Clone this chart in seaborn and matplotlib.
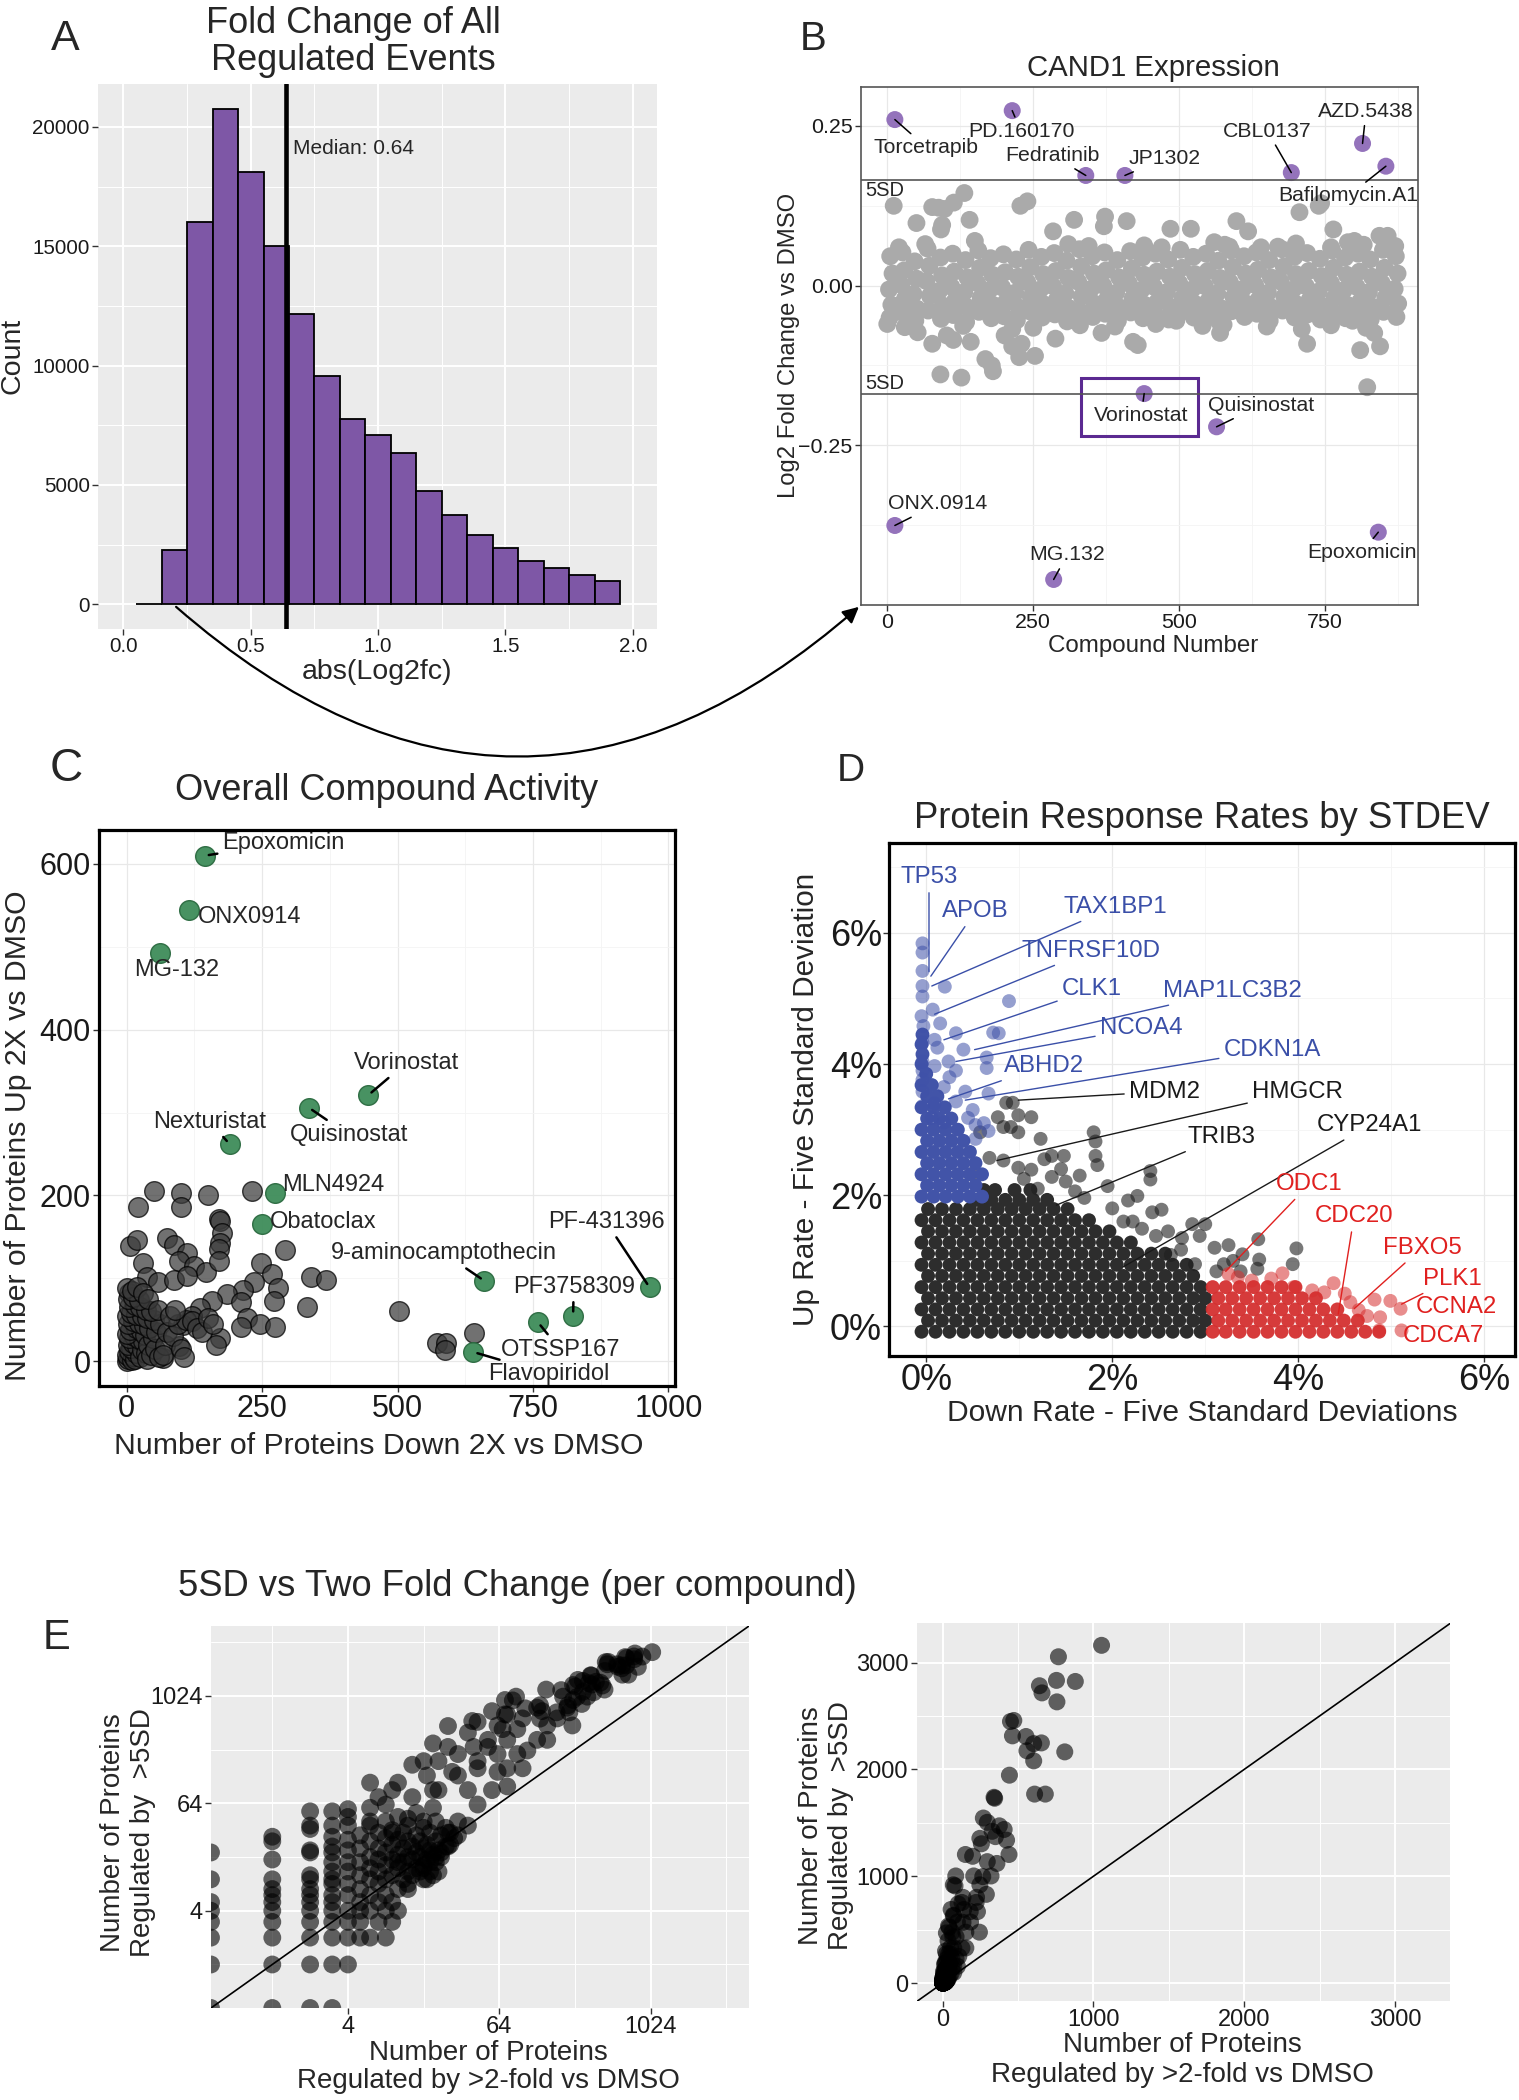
import numpy as np
import pandas as pd
import matplotlib.pyplot as plt
from matplotlib.patches import Rectangle, FancyArrowPatch
from matplotlib.ticker import NullFormatter
import seaborn as sns

sns.set_style('white')
plt.rcParams['font.family'] = ['Liberation Sans', 'DejaVu Sans']

W, H = 1519, 2100

# ---------------- A: abs(log2fc) histogram ----------------
fc_bin_edges = [0.05, 0.15, 0.25, 0.35, 0.45, 0.55, 0.65, 0.75, 0.85, 0.95,
                1.05, 1.15, 1.25, 1.35, 1.45, 1.55, 1.65, 1.75, 1.85, 1.95]
fc_bin_counts = [0, 2260, 16000, 20750, 18130, 14990, 12170, 9550, 7740, 7100,
                 6340, 4750, 3740, 2900, 2370, 1810, 1530, 1230, 990]
fc_median = 0.64

# ---------------- B: CAND1 expression per compound ----------------
cand1_hit_names = ['Torcetrapib', 'PD.160170', 'Fedratinib', 'JP1302', 'CBL0137', 'AZD.5438',
                   'Bafilomycin.A1', 'Vorinostat', 'Quisinostat', 'ONX.0914', 'MG.132', 'Epoxomicin']
cand1_hit_num = [13, 214, 340, 407, 692, 814, 854, 440, 564, 13, 285, 841]
cand1_hit_fc = [0.260, 0.274, 0.1725, 0.1725, 0.177, 0.2226, 0.187, -0.169, -0.221, -0.3755, -0.460, -0.386]
cand1_sd_cut = [0.165, -0.17]
cand1_other = [
    (5, 0.046), (9, 0.019), (3, -0.006), (7, -0.030), (4, -0.050),
    (26, 0.052), (29, 0.024), (24, 0.001), (30, -0.021), (27, -0.043),
    (47, 0.038), (50, 0.011), (45, -0.013), (51, -0.036), (48, -0.055),
    (69, 0.058), (72, 0.031), (67, 0.007), (73, -0.016), (70, -0.039),
    (91, 0.044), (94, 0.016), (89, -0.008), (95, -0.031), (92, -0.052),
    (112, 0.050), (115, 0.022), (110, -0.002), (116, -0.024), (113, -0.046),
    (134, 0.040), (137, 0.013), (132, -0.010), (138, -0.034), (135, -0.057),
    (156, 0.055), (159, 0.028), (154, 0.004), (160, -0.019), (157, -0.041),
    (177, 0.043), (180, 0.017), (175, -0.007), (181, -0.030), (178, -0.051),
    (199, 0.049), (202, 0.021), (197, -0.003), (203, -0.026), (200, -0.048),
    (221, 0.041), (224, 0.014), (219, -0.011), (225, -0.034), (222, -0.054),
    (242, 0.056), (245, 0.029), (240, 0.005), (246, -0.018), (243, -0.040),
    (264, 0.045), (267, 0.018), (262, -0.006), (268, -0.029), (265, -0.050),
    (286, 0.051), (289, 0.023), (284, -0.001), (290, -0.023), (287, -0.045),
    (307, 0.039), (310, 0.012), (305, -0.012), (311, -0.035), (308, -0.056),
    (329, 0.057), (332, 0.030), (327, 0.006), (333, -0.017), (330, -0.040),
    (351, 0.046), (354, 0.019), (349, -0.005), (355, -0.028), (352, -0.049),
    (372, 0.052), (375, 0.024), (370, 0.000), (376, -0.022), (373, -0.044),
    (394, 0.040), (397, 0.013), (392, -0.011), (398, -0.034), (395, -0.055),
    (416, 0.054), (419, 0.027), (414, 0.003), (420, -0.020), (417, -0.042),
    (437, 0.044), (440, 0.017), (435, -0.007), (441, -0.030), (438, -0.051),
    (459, 0.050), (462, 0.022), (457, -0.002), (463, -0.025), (460, -0.047),
    (481, 0.041), (484, 0.014), (479, -0.010), (485, -0.033), (482, -0.053),
    (502, 0.056), (505, 0.028), (500, 0.004), (506, -0.019), (503, -0.041),
    (524, 0.045), (527, 0.018), (522, -0.006), (528, -0.029), (525, -0.050),
    (546, 0.050), (549, 0.023), (544, -0.001), (550, -0.024), (547, -0.046),
    (567, 0.039), (570, 0.012), (565, -0.012), (571, -0.035), (568, -0.056),
    (589, 0.055), (592, 0.029), (587, 0.005), (593, -0.018), (590, -0.040),
    (611, 0.046), (614, 0.019), (609, -0.005), (615, -0.028), (612, -0.049),
    (632, 0.052), (635, 0.025), (630, 0.001), (636, -0.022), (633, -0.044),
    (654, 0.040), (657, 0.013), (652, -0.011), (658, -0.034), (655, -0.055),
    (676, 0.057), (679, 0.030), (674, 0.006), (680, -0.017), (677, -0.039),
    (697, 0.045), (700, 0.018), (695, -0.006), (701, -0.029), (698, -0.050),
    (719, 0.051), (722, 0.023), (717, -0.001), (723, -0.023), (720, -0.045),
    (741, 0.042), (744, 0.015), (739, -0.009), (745, -0.032), (742, -0.053),
    (762, 0.055), (765, 0.028), (760, 0.004), (766, -0.019), (763, -0.041),
    (784, 0.044), (787, 0.017), (782, -0.007), (788, -0.030), (785, -0.051),
    (806, 0.050), (809, 0.022), (804, -0.002), (810, -0.025), (807, -0.047),
    (827, 0.041), (830, 0.014), (825, -0.010), (831, -0.033), (828, -0.053),
    (849, 0.056), (852, 0.028), (847, 0.004), (853, -0.019), (850, -0.041),
    (871, 0.046), (874, 0.019), (869, -0.005), (875, -0.028), (872, -0.049),
    (20, 0.060), (65, 0.065), (150, 0.070), (310, 0.065), (345, 0.062), (440, 0.063),
    (470, 0.060), (560, 0.068), (640, 0.060), (700, 0.066), (760, 0.060), (800, 0.070),
    (870, 0.062), (30, -0.065), (130, -0.063), (250, -0.066), (330, -0.062), (390, -0.064),
    (460, -0.060), (540, -0.063), (650, -0.064), (760, -0.062), (820, -0.066),
    (11, 0.125), (77, 0.123), (88, 0.122), (98, 0.120), (114, 0.130), (132, 0.145),
    (141, 0.103), (50, 0.098), (94, 0.095), (92, 0.088), (228, 0.125), (240, 0.132),
    (284, 0.085), (320, 0.103), (373, 0.108), (371, 0.093), (410, 0.101), (485, 0.089),
    (520, 0.089), (598, 0.101), (618, 0.085), (706, 0.115), (739, 0.125), (743, 0.129),
    (764, 0.088), (789, 0.068), (843, 0.078), (857, 0.078), (816, 0.064), (578, 0.064),
    (586, 0.061), (669, 0.061),
    (0, -0.060), (52, -0.073), (77, -0.091), (102, -0.078), (113, -0.085), (143, -0.088),
    (91, -0.139), (127, -0.144), (168, -0.115), (179, -0.125), (181, -0.134), (201, -0.078),
    (214, -0.095), (230, -0.091), (226, -0.112), (253, -0.110), (214, -0.068), (288, -0.083),
    (367, -0.074), (421, -0.088), (429, -0.093), (495, -0.055), (570, -0.074), (576, -0.061),
    (719, -0.091), (710, -0.068), (810, -0.101), (822, -0.159), (834, -0.074), (844, -0.095),
    (797, -0.055),
]

# ---------------- C: up vs down per compound ----------------
c_hit_names = ['Epoxomicin', 'ONX0914', 'MG-132', 'Vorinostat', 'Quisinostat', 'Nexturistat',
               'MLN4924', 'Obatoclax', '9-aminocamptothecin', 'PF-431396', 'PF3758309',
               'OTSSP167', 'Flavopiridol']
c_hit_down = [144, 115, 61, 446, 336, 190, 274, 249, 660, 965, 824, 759, 640]
c_hit_up = [610, 544, 492, 321, 306, 262, 203, 165, 97, 89, 55, 47, 11]
c_other = [
    (21, 186), (50, 205), (101, 203), (101, 186), (151, 201), (232, 205), (170, 172),
    (172, 169), (176, 155), (172, 143), (170, 135), (75, 149), (87, 140), (112, 130),
    (97, 121), (125, 115), (146, 107), (170, 121), (7, 139), (19, 146), (31, 118),
    (38, 101), (57, 95), (87, 98), (112, 103), (248, 118), (269, 105), (279, 88),
    (272, 72), (293, 134), (235, 96), (215, 86), (186, 81), (211, 71), (223, 52),
    (246, 45), (274, 41), (211, 41), (172, 28), (157, 72), (135, 64), (120, 55),
    (104, 44), (96, 18), (67, 4), (340, 102), (368, 98), (333, 65), (502, 60),
    (572, 22), (590, 22), (588, 13), (641, 34), (5, 82), (13, 67),
    (0, 0), (3, 2), (6, 5), (1, 8), (9, 1), (12, 6), (4, 12), (15, 3), (18, 10), (8, 16),
    (2, 20), (11, 22), (20, 18), (25, 5), (28, 14), (5, 28), (14, 30), (22, 27), (30, 24),
    (35, 10), (38, 3), (0, 33), (7, 38), (17, 40), (27, 36), (33, 32), (40, 20), (45, 8),
    (48, 28), (3, 45), (12, 48), (22, 46), (32, 44), (42, 40), (52, 15), (55, 35), (60, 5),
    (0, 55), (8, 58), (18, 56), (28, 55), (38, 52), (50, 50), (62, 45), (5, 65), (15, 68),
    (25, 65), (35, 62), (45, 60), (2, 75), (12, 78), (22, 74), (0, 88), (10, 85), (20, 90),
    (30, 82), (40, 75), (58, 62), (70, 20), (75, 35), (68, 8), (85, 30), (95, 45), (100, 15),
    (110, 50), (120, 48), (130, 40), (140, 35), (150, 52), (160, 45), (165, 20), (105, 5),
    (80, 55), (90, 62),
]

# ---------------- D: protein response rates (percent) ----------------
d_black_rows_y = [-0.08, 0.09, 0.26, 0.43, 0.60, 0.77, 0.94, 1.11, 1.28, 1.45, 1.62, 1.79, 1.93, 2.08]
d_black_rows_x = [
    [-0.05, 0.10, 0.25, 0.40, 0.55, 0.70, 0.85, 1.00, 1.15, 1.30, 1.45, 1.60, 1.75, 1.90, 2.05, 2.20, 2.35, 2.50, 2.65, 2.80, 2.95],
    [0.02, 0.17, 0.32, 0.47, 0.62, 0.77, 0.92, 1.07, 1.22, 1.37, 1.52, 1.67, 1.82, 1.97, 2.12, 2.27, 2.42, 2.57, 2.72, 2.87, 3.00],
    [-0.05, 0.10, 0.25, 0.40, 0.55, 0.70, 0.85, 1.00, 1.15, 1.30, 1.45, 1.60, 1.75, 1.90, 2.05, 2.20, 2.35, 2.50, 2.65, 2.80, 2.95],
    [0.02, 0.17, 0.32, 0.47, 0.62, 0.77, 0.92, 1.07, 1.22, 1.37, 1.52, 1.67, 1.82, 1.97, 2.12, 2.27, 2.42, 2.57, 2.72, 2.87, 3.00],
    [-0.05, 0.10, 0.25, 0.40, 0.55, 0.70, 0.85, 1.00, 1.15, 1.30, 1.45, 1.60, 1.75, 1.90, 2.05, 2.20, 2.35, 2.50, 2.65, 2.80, 2.95],
    [0.02, 0.17, 0.32, 0.47, 0.62, 0.77, 0.92, 1.07, 1.22, 1.37, 1.52, 1.67, 1.82, 1.97, 2.12, 2.27, 2.42, 2.57, 2.72, 2.87],
    [-0.05, 0.10, 0.25, 0.40, 0.55, 0.70, 0.85, 1.00, 1.15, 1.30, 1.45, 1.60, 1.75, 1.90, 2.05, 2.20, 2.35, 2.50, 2.65, 2.80],
    [0.02, 0.17, 0.32, 0.47, 0.62, 0.77, 0.92, 1.07, 1.22, 1.37, 1.52, 1.67, 1.82, 1.97, 2.12, 2.27, 2.42, 2.57],
    [-0.05, 0.10, 0.25, 0.40, 0.55, 0.70, 0.85, 1.00, 1.15, 1.30, 1.45, 1.60, 1.75, 1.90, 2.05, 2.20],
    [0.02, 0.17, 0.32, 0.47, 0.62, 0.77, 0.92, 1.07, 1.22, 1.37, 1.52, 1.67, 1.82, 1.97],
    [-0.05, 0.10, 0.25, 0.40, 0.55, 0.70, 0.85, 1.00, 1.15, 1.30, 1.45, 1.60, 1.75],
    [0.02, 0.17, 0.32, 0.47, 0.62, 0.77, 0.92, 1.07, 1.22, 1.37, 1.52],
    [0.55, 0.70, 0.85, 1.00, 1.15, 1.30],
    [0.62, 0.74, 0.95, 1.12],
]
d_black_sparse = [
    (0.86, 3.41), (0.93, 3.41), (0.77, 3.19), (0.83, 3.04), (0.99, 2.96), (1.13, 3.19),
    (1.23, 2.86), (0.68, 2.57), (0.83, 2.53), (0.99, 2.42), (1.13, 2.39), (1.27, 2.55),
    (1.35, 2.60), (1.48, 2.60), (1.35, 2.28), (1.50, 2.21), (1.60, 2.06), (1.70, 1.96),
    (1.80, 2.96), (1.82, 2.82), (1.82, 2.60), (1.84, 2.46), (1.95, 2.14), (2.17, 1.92),
    (2.27, 1.99), (2.41, 2.37), (2.41, 2.24), (2.43, 1.74), (2.53, 1.78), (2.12, 1.60),
    (2.22, 1.60), (2.32, 1.49), (2.47, 1.38), (2.86, 1.56), (3.00, 1.56), (2.94, 1.38),
    (3.10, 1.20), (3.25, 1.24), (3.57, 1.33), (3.58, 1.02), (3.94, 0.95), (3.98, 1.19),
    (2.74, 1.17), (2.63, 1.09), (2.89, 0.95), (3.12, 0.84), (3.38, 0.84), (3.56, 0.88),
    (0.99, 3.22), (0.91, 3.04), (0.52, 2.35), (0.58, 2.96), (1.05, 2.25), (1.20, 2.10),
    (1.45, 2.40), (1.65, 2.30), (2.00, 1.80), (2.60, 1.45), (2.75, 1.35), (3.30, 1.00),
    (3.40, 1.10), (3.20, 0.95),
]
d_blue_rows_y = [1.98, 2.15, 2.32, 2.49, 2.66, 2.83, 3.00, 3.17, 3.34, 3.51, 3.68, 3.85, 4.00, 4.15, 4.30, 4.45]
d_blue_rows_x = [
    [-0.05, 0.08, 0.21, 0.34, 0.47, 0.60],
    [0.01, 0.14, 0.27, 0.40, 0.53],
    [-0.05, 0.08, 0.21, 0.34, 0.47, 0.60],
    [0.01, 0.14, 0.27, 0.40, 0.53],
    [-0.05, 0.08, 0.21, 0.34, 0.47],
    [0.01, 0.14, 0.27, 0.40],
    [-0.05, 0.08, 0.21, 0.34],
    [0.01, 0.14, 0.27],
    [-0.05, 0.08, 0.20],
    [0.01, 0.12],
    [-0.05, 0.06],
    [0.00],
    [-0.05],
    [-0.04],
    [-0.05],
    [-0.04],
]
d_blue_sparse = [
    (-0.04, 5.84), (-0.04, 5.70), (-0.04, 5.42), (-0.04, 5.19), (-0.04, 5.03), (0.20, 5.18),
    (0.89, 4.96), (0.07, 4.83), (-0.05, 4.73), (-0.03, 4.58), (0.15, 4.62), (0.78, 4.47),
    (0.32, 4.47), (0.09, 4.37), (-0.04, 4.33), (0.40, 4.22), (0.65, 4.10), (0.65, 3.94),
    (0.24, 4.04), (0.32, 3.90), (0.09, 3.97), (-0.04, 4.04), (-0.04, 3.90), (-0.04, 3.76),
    (0.19, 3.65), (0.42, 3.58), (0.67, 3.55), (-0.04, 3.58), (0.32, 3.43), (0.09, 3.40),
    (-0.04, 3.36), (0.45, 3.18), (0.53, 3.07), (0.67, 2.98), (0.53, 2.86), (0.19, 3.11),
    (0.06, 3.18), (0.72, 4.48), (0.12, 4.25), (0.25, 3.80), (0.50, 3.30), (0.62, 3.10),
]
d_red_rows_y = [-0.08, 0.09, 0.26, 0.43, 0.60]
d_red_rows_x = [
    [3.08, 3.22, 3.37, 3.52, 3.67, 3.82, 3.97, 4.12, 4.27, 4.42, 4.57, 4.72, 4.87],
    [3.14, 3.29, 3.44, 3.59, 3.74, 3.89, 4.04, 4.19, 4.34, 4.49, 4.64],
    [3.08, 3.22, 3.37, 3.52, 3.67, 3.82, 3.97, 4.12, 4.27, 4.42],
    [3.14, 3.29, 3.44, 3.59, 3.74, 3.89, 4.04, 4.19],
    [3.08, 3.22, 3.37, 3.52, 3.67, 3.82, 3.97],
]
d_red_sparse = [
    (4.38, 0.66), (3.83, 0.81), (3.71, 0.73), (4.82, 0.41), (4.99, 0.39), (5.10, 0.27),
    (4.74, 0.16), (4.88, 0.14), (4.87, -0.06), (5.11, -0.06), (4.28, 0.52), (4.56, 0.37),
    (3.35, 0.75), (3.50, 0.70), (3.95, 0.60), (4.15, 0.55), (4.50, 0.50), (4.65, 0.25),
    (3.25, 0.80),
]

# ---------------- E: 5SD vs two fold per compound ----------------
e_col_twofold = [0, 1, 2, 3, 4]
e_col_5sd = [
    [0, 1, 2, 3, 4, 5, 9, 18],
    [0, 1, 2, 3, 4, 5, 6, 7, 9, 15, 24, 27],
    [0, 1, 2, 3, 4, 5, 6, 7, 9, 10, 18, 19, 33, 36, 52],
    [0, 1, 2, 3, 4, 5, 6, 8, 9, 11, 14, 18, 21, 27, 36, 52],
    [1, 2, 3, 4, 6, 8, 11, 14, 19, 25, 36, 45, 55],
]
e_mid = [
    (5, 2), (6, 2), (8, 2), (5, 3), (7, 3), (9, 3), (5, 4), (6, 4), (8, 4), (10, 4), (5, 5),
    (5, 7), (5, 10), (5, 14), (5, 20), (5, 28), (6, 6), (6, 9), (6, 12), (6, 16), (6, 24),
    (6, 36), (7, 5), (7, 8), (7, 11), (7, 15), (7, 20), (7, 30), (8, 6), (8, 9), (8, 13),
    (8, 18), (8, 26), (8, 40), (9, 5), (9, 10), (9, 15), (9, 22), (9, 32), (10, 7), (10, 12),
    (10, 17), (10, 25), (10, 45), (11, 9), (11, 14), (11, 20), (11, 30), (12, 8), (12, 11),
    (12, 16), (12, 24), (12, 36), (13, 10), (13, 15), (13, 21), (14, 12), (14, 18), (14, 28),
    (14, 50), (15, 11), (15, 16), (15, 24), (16, 13), (16, 20), (16, 34), (17, 15), (17, 22),
    (18, 14), (18, 19), (18, 30), (19, 17), (20, 16), (20, 24), (20, 40), (22, 18), (22, 28),
    (24, 21), (24, 34), (26, 22), (26, 30), (28, 26), (30, 28), (30, 40), (16, 12), (18, 11),
    (20, 14), (22, 16), (17, 9), (19, 10), (21, 11), (16, 9), (12, 7), (10, 14), (9, 30),
    (6, 40), (13, 75), (12, 43), (16, 40), (19, 57), (21, 90), (17, 131), (16, 190), (13, 173),
    (6, 109), (6, 57), (7, 75), (8, 62), (9, 90), (10, 109), (25, 21), (25, 30), (21, 19), (36, 36),
]
e_band = [
    (27, 144), (30, 228), (36, 90), (43, 62), (43, 190), (62, 228), (74, 329), (62, 477),
    (98, 158), (89, 228), (128, 329), (154, 477), (185, 572), (222, 755), (244, 477),
    (154, 329), (140, 690), (82, 910), (74, 630), (43, 523), (36, 396), (52, 329), (25, 274),
    (21, 190), (19, 90), (56, 90), (74, 99), (52, 274), (128, 755), (98, 572), (68, 434),
    (43, 158), (30, 131), (62, 144), (19, 300), (40, 274), (107, 250), (74, 158), (56, 690),
    (89, 434), (290, 831), (266, 997),
]
e_high = [
    (1054, 3161), (768, 3054), (755, 2833), (880, 2823), (642, 2783), (659, 2716), (758, 2632),
    (450, 2448), (472, 2458), (463, 2314), (553, 2308), (655, 2248), (604, 2241), (559, 2174),
    (810, 2164), (604, 2080), (443, 1946), (610, 1769), (681, 1769), (341, 1739), (345, 1730),
    (270, 1545), (296, 1505), (376, 1472), (328, 1421), (408, 1438), (424, 1338), (440, 1204),
    (350, 1371), (247, 1355), (151, 1204), (199, 1187), (257, 1304), (296, 1137), (360, 1120),
    (321, 1003), (206, 1003), (87, 1003), (71, 920), (135, 803), (225, 803), (247, 920),
    (103, 742), (183, 669), (231, 669), (135, 569), (71, 635), (39, 535), (25, 470),
]

# ---------------- helpers ----------------
fig = plt.figure(figsize=(W / 100, H / 100), dpi=100)


def add_ax(left, top, right, bottom):
    return fig.add_axes([left / W, 1 - bottom / H, (right - left) / W, (bottom - top) / H])


def ftext(x, y, s, **kw):
    kw.setdefault('ha', 'center')
    kw.setdefault('va', 'center')
    fig.text(x / W, 1 - y / H, s, **kw)


def gg_style(ax, size):
    ax.set_facecolor('#EBEBEB')
    for sp in ax.spines.values():
        sp.set_visible(False)
    ax.grid(which='major', color='white', lw=1.4)
    ax.grid(which='minor', color='white', lw=0.7)
    ax.set_axisbelow(True)
    ax.tick_params(which='major', bottom=True, left=True, length=4, width=1,
                   color='#333333', labelcolor='#1a1a1a', labelsize=size, pad=2)
    ax.tick_params(which='minor', length=0)
    ax.set_xlabel('')
    ax.set_ylabel('')


def bw_style(ax, size, frame_color, frame_lw, pad=2):
    ax.set_facecolor('white')
    for sp in ax.spines.values():
        sp.set_visible(True)
        sp.set_color(frame_color)
        sp.set_linewidth(frame_lw)
    ax.grid(which='major', color='#E8E8E8', lw=0.9)
    ax.grid(which='minor', color='#F4F4F4', lw=0.6)
    ax.set_axisbelow(True)
    ax.tick_params(which='major', bottom=True, left=True, length=4, width=1,
                   color='#333333', labelcolor='#1a1a1a', labelsize=size, pad=pad)
    ax.tick_params(which='minor', length=0)
    ax.set_xlabel('')
    ax.set_ylabel('')


def rows_to_frame(rows_y, rows_x):
    return pd.DataFrame([(x, y) for y, xs in zip(rows_y, rows_x) for x in xs], columns=['x', 'y'])


def pairs_to_frame(pairs):
    return pd.DataFrame(pairs, columns=['x', 'y'])


# ================= A =================
axA = add_ax(98, 84, 657, 629)
centers = [(a + b) / 2 for a, b in zip(fc_bin_edges[:-1], fc_bin_edges[1:])]
sns.histplot(x=centers, weights=fc_bin_counts, bins=fc_bin_edges, color='#7E57A6', alpha=1,
             edgecolor='black', linewidth=1.3, ax=axA)
axA.axvline(fc_median, color='black', lw=3.3)
axA.text(fc_median + 0.025, 19100, f'Median: {fc_median:.2f}', fontsize=15, va='center')
axA.set_xlim(-0.1, 2.095)
axA.set_ylim(-1040, 21800)
axA.set_xticks([0, 0.5, 1.0, 1.5, 2.0], ['0.0', '0.5', '1.0', '1.5', '2.0'])
axA.set_xticks([0.25, 0.75, 1.25, 1.75], minor=True)
axA.set_yticks([0, 5000, 10000, 15000, 20000], ['0', '5000', '10000', '15000', '20000'])
axA.set_yticks([2500, 7500, 12500, 17500], minor=True)
gg_style(axA, 14.8)
ftext(65, 39, 'A', fontsize=31)
ftext(353, 42, 'Fold Change of All\nRegulated Events', fontsize=26, linespacing=1.05)
ftext(13, 356, 'Count', fontsize=20.5, rotation=90)
ftext(377, 672, 'abs(Log2fc)', fontsize=20.5)

# ================= B =================
axB = add_ax(861, 87, 1418, 605)
bg = pairs_to_frame(cand1_other)
sns.scatterplot(data=bg, x='x', y='y', color='#AAAAAA', s=165, alpha=1, edgecolor='none',
                ax=axB, legend=False)
for cut in cand1_sd_cut:
    axB.axhline(cut, color='#555555', lw=1.2)
sns.scatterplot(x=cand1_hit_num, y=cand1_hit_fc, color='#8E6BB8', s=150, alpha=0.95,
                edgecolor='none', ax=axB, legend=False)
b_label_pos = [(67, 0.2165), (229, 0.242), (283, 0.204), (475, 0.199), (651, 0.242),
               (820, 0.2727), (790, 0.1407), (435, -0.203), (640, -0.1874), (86.5, -0.3417),
               (308, -0.4215), (813, -0.4175)]
for name, px, py, (tx, ty) in zip(cand1_hit_names, cand1_hit_num, cand1_hit_fc, b_label_pos):
    axB.annotate(name, xy=(px, py), xytext=(tx, ty), ha='center', va='center', fontsize=15.3,
                 arrowprops=dict(arrowstyle='-', color='black', lw=1.1, shrinkA=1, shrinkB=0))
axB.text(-37, 0.149, '5SD', fontsize=14.5, va='center')
axB.text(-37, -0.153, '5SD', fontsize=14.5, va='center')
axB.add_patch(Rectangle((332, -0.235), 200, 0.091, fill=False, edgecolor='#5B2A91', lw=2.2))
axB.set_xlim(-45, 909)
axB.set_ylim(-0.50, 0.311)
axB.set_xticks([0, 250, 500, 750])
axB.set_xticks([125, 375, 625, 875], minor=True)
axB.set_yticks([-0.25, 0, 0.25], ['\u22120.25', '0.00', '0.25'])
axB.set_yticks([-0.375, -0.125, 0.125], minor=True)
bw_style(axB, 15.4, '#555555', 1.2)
ftext(813, 39, 'B', fontsize=29)
ftext(1153, 68, 'CAND1 Expression', fontsize=21.2)
ftext(789, 345, 'Log2 Fold Change vs DMSO', fontsize=17.2, rotation=90)
ftext(1153, 646, 'Compound Number', fontsize=17.4)

# curved arrow from A to B
arrow = FancyArrowPatch((174 / W, 1 - 605 / H), (861 / W, 1 - 605 / H), transform=fig.transFigure,
                        connectionstyle='arc3,rad=0.44', arrowstyle='-|>', mutation_scale=24,
                        lw=1.6, color='black')
fig.add_artist(arrow)

# ================= C =================
axC = add_ax(99, 830, 675, 1386)
co = pairs_to_frame(c_other)
sns.scatterplot(data=co, x='x', y='y', color='#3A3A3A', s=200, alpha=0.72, edgecolor='black',
                linewidth=1.0, ax=axC, legend=False)
sns.scatterplot(x=c_hit_down, y=c_hit_up, color='#3E8C5A', s=200, alpha=0.95, edgecolor='#2B6A40',
                linewidth=1.0, ax=axC, legend=False)
c_label_pos = [(176, 625, 'left', True), (132, 536, 'left', False), (93, 472, 'center', False),
               (516, 360, 'center', True), (410, 273, 'center', True), (153, 289, 'center', True),
               (287, 213, 'left', False), (265, 168, 'left', False), (586, 130, 'center', True),
               (885, 168, 'center', True), (825, 90, 'center', True), (800, 14, 'center', True),
               (780, -16, 'center', True)]
for name, px, py, (tx, ty, ha, line) in zip(c_hit_names, c_hit_down, c_hit_up, c_label_pos):
    props = dict(arrowstyle='-', color='black', lw=1.8, shrinkA=1, shrinkB=3) if line else None
    axC.annotate(name, xy=(px, py), xytext=(tx, ty), ha=ha, va='center', fontsize=17,
                 arrowprops=props)
axC.set_xlim(-51, 1012)
axC.set_ylim(-30, 641)
axC.set_xticks([0, 250, 500, 750, 1000])
axC.set_xticks([125, 375, 625, 875], minor=True)
axC.set_yticks([0, 200, 400, 600])
axC.set_yticks([100, 300, 500], minor=True)
bw_style(axC, 22, 'black', 2.3)
ftext(66, 769, 'C', fontsize=33)
ftext(387, 790, 'Overall Compound Activity', fontsize=26)
ftext(18, 1136, 'Number of Proteins Up 2X vs DMSO', fontsize=21.8, rotation=90)
ftext(379, 1446, 'Number of Proteins Down 2X vs DMSO', fontsize=21.8)

# ================= D =================
axD = add_ax(889, 843, 1515, 1356)
d_sets = [
    (rows_to_frame(d_black_rows_y, d_black_rows_x), '#2D2D2D', 1.0),
    (pairs_to_frame(d_black_sparse), '#1E1E1E', 0.6),
    (rows_to_frame(d_blue_rows_y, d_blue_rows_x), '#4254A8', 1.0),
    (pairs_to_frame(d_blue_sparse), '#3F51A8', 0.55),
    (rows_to_frame(d_red_rows_y, d_red_rows_x), '#D43030', 0.95),
    (pairs_to_frame(d_red_sparse), '#D62F2F', 0.55),
]
for frame, col, a in d_sets:
    sns.scatterplot(data=frame, x='x', y='y', color=col, s=100, alpha=a, edgecolor='none',
                    ax=axD, legend=False)
blue_c, black_c, red_c = '#3A4FA8', '#1A1A1A', '#E0201F'
d_labels = [
    ('TP53', blue_c, (0.03, 5.41), (0.03, 6.85)),
    ('APOB', blue_c, (0.05, 5.34), (0.53, 6.33)),
    ('TAX1BP1', blue_c, (0.06, 5.19), (2.03, 6.40)),
    ('TNFRSF10D', blue_c, (0.09, 4.76), (1.77, 5.73)),
    ('CLK1', blue_c, (0.19, 4.37), (1.78, 5.14)),
    ('MAP1LC3B2', blue_c, (0.52, 4.22), (3.29, 5.12)),
    ('NCOA4', blue_c, (0.32, 4.04), (2.31, 4.55)),
    ('CDKN1A', blue_c, (0.42, 3.45), (3.72, 4.22)),
    ('ABHD2', blue_c, (0.24, 3.47), (1.27, 3.97)),
    ('MDM2', black_c, (0.99, 3.45), (2.56, 3.58)),
    ('HMGCR', black_c, (0.76, 2.53), (3.99, 3.58)),
    ('CYP24A1', black_c, (2.12, 0.91), (4.77, 3.07)),
    ('TRIB3', black_c, (1.40, 1.85), (3.17, 2.89)),
    ('ODC1', red_c, (3.22, 0.84), (4.12, 2.17)),
    ('CDC20', red_c, (4.43, 0.19), (4.60, 1.68)),
    ('FBXO5', red_c, (4.60, 0.27), (5.33, 1.20)),
    ('PLK1', red_c, (5.11, 0.34), (5.66, 0.73)),
    ('CCNA2', red_c, None, (5.70, 0.30)),
    ('CDCA7', red_c, None, (5.56, -0.14)),
]
for name, col, pt, (tx, ty) in d_labels:
    if pt is None:
        axD.text(tx, ty, name, color=col, fontsize=17.3, ha='center', va='center')
    else:
        axD.annotate(name, xy=pt, xytext=(tx, ty), ha='center', va='center', fontsize=17.3,
                     color=col, arrowprops=dict(arrowstyle='-', color=col, lw=1.0, shrinkA=1, shrinkB=0))
axD.set_xlim(-0.40, 6.33)
axD.set_ylim(-0.45, 7.37)
axD.set_xticks([0, 2, 4, 6], ['0%', '2%', '4%', '6%'])
axD.set_xticks([1, 3, 5], minor=True)
axD.set_yticks([0, 2, 4, 6], ['0%', '2%', '4%', '6%'])
axD.set_yticks([1, 3, 5, 7], minor=True)
bw_style(axD, 26, 'black', 2.3, pad=1)
ftext(851, 771, 'D', fontsize=28)
ftext(1202, 818, 'Protein Response Rates by STDEV', fontsize=26.3)
ftext(806, 1099, 'Up Rate - Five Standard Deviation', fontsize=21.4, rotation=90)
ftext(1202, 1413, 'Down Rate - Five Standard Deviations', fontsize=21.6)

# ================= E =================
e_pairs = ([(x, y) for x, ys in zip(e_col_twofold, e_col_5sd) for y in ys]
           + e_mid + e_band + e_high)
e_df = pd.DataFrame(e_pairs, columns=['twofold', 'sd5'])

lo, hi = 2 ** -1.62, 2 ** 12.6
axEL = add_ax(211, 1626, 749, 2008)
axEL.set_xscale('log', base=2)
axEL.set_yscale('log', base=2)
e_log = e_df.copy()
e_log['twofold'] = e_log['twofold'].where(e_log['twofold'] > 0, lo)
e_log['sd5'] = e_log['sd5'].where(e_log['sd5'] > 0, lo)
sns.scatterplot(data=e_log, x='twofold', y='sd5', color='black', s=165, alpha=0.6,
                edgecolor='none', ax=axEL, legend=False)
axEL.axline((1, 1), (2, 2), color='black', lw=1.2)
axEL.set_xlim(lo, hi)
axEL.set_ylim(lo, hi)
for axis in (axEL.xaxis, axEL.yaxis):
    axis.set_major_locator(plt.FixedLocator([4, 64, 1024]))
    axis.set_major_formatter(plt.FixedFormatter(['4', '64', '1024']))
    axis.set_minor_locator(plt.FixedLocator([1, 16, 256, 4096]))
    axis.set_minor_formatter(NullFormatter())
gg_style(axEL, 17)

axER = add_ax(917, 1623, 1450, 2001)
sns.scatterplot(data=e_df, x='twofold', y='sd5', color='black', s=150, alpha=0.6,
                edgecolor='none', ax=axER, legend=False)
axER.axline((0, 0), (1, 1), color='black', lw=1.2)
axER.set_xlim(-170, 3365)
axER.set_ylim(-167, 3370)
axER.set_xticks([0, 1000, 2000, 3000])
axER.set_xticks([500, 1500, 2500], minor=True)
axER.set_yticks([0, 1000, 2000, 3000])
axER.set_yticks([500, 1500, 2500], minor=True)
gg_style(axER, 17)

ftext(57, 1638, 'E', fontsize=30)
ftext(517, 1586, '5SD vs Two Fold Change (per compound)', fontsize=26.2)
ftext(128, 1833, 'Number of Proteins\nRegulated by  >5SD', fontsize=20, rotation=90, linespacing=1.15)
ftext(488, 2067, 'Number of Proteins\nRegulated by >2-fold vs DMSO', fontsize=20, linespacing=1.15)
ftext(826, 1826, 'Number of Proteins\nRegulated by  >5SD', fontsize=20, rotation=90, linespacing=1.15)
ftext(1182, 2060, 'Number of Proteins\nRegulated by >2-fold vs DMSO', fontsize=20, linespacing=1.15)

fig.savefig('out.png', dpi=100)
